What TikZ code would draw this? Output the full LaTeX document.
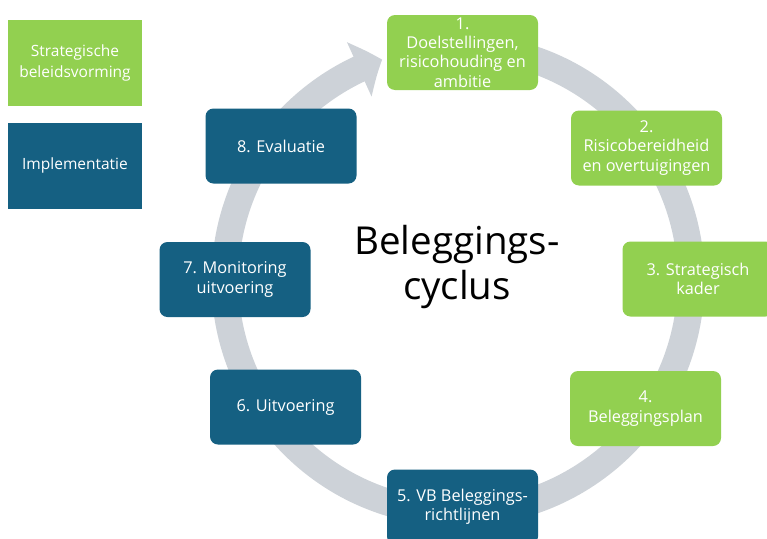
\documentclass[tikz,border=0pt]{standalone}
\usepackage{fontspec}
\setmainfont{Open Sans}
\usetikzlibrary{arrows.meta,bending}
\definecolor{stratgreen}{HTML}{92D050}
\definecolor{implblue}{HTML}{156082}
\definecolor{ringgray}{HTML}{CDD2D8}
\begin{document}
\begin{tikzpicture}[x=1pt,y=1pt]
\tikzstyle{every node}+=[inner sep=0pt]
\tikzstyle{stepnode}=[rounded corners=8pt, minimum width=151pt, minimum height=75pt, align=center, text=white, font=\fontsize{16.3}{19.3}\selectfont]
\tikzstyle{strat}=[stepnode, fill=stratgreen]
\tikzstyle{impl}=[stepnode, fill=implblue]
\tikzstyle{legend}=[minimum width=134pt, minimum height=86pt, align=center, text=white, font=\fontsize{15.5}{21}\selectfont]
\useasboundingbox (0,0) rectangle (767,-538);
\fill [white] (0,0) rectangle (767,-538);
% ring with arrow
\coordinate (c) at (458,-280);
\draw [ringgray, line width=27pt, -{Triangle[length=25pt,width=58pt,bend]}] ([shift={(80:233)}]c) arc [start angle=80, end angle=-251, radius=233];
% legend
\node [legend, fill=stratgreen] (lstrat) at (75,-63) {Strategische\\beleidsvorming};
\node [legend, fill=implblue] (limpl) at (75,-165.5) {Implementatie};
% title
\node [font=\fontsize{38.5}{45}\selectfont, align=center] (title) at (457,-267) {Beleggings-\\cyclus};
% steps
\node [strat] (q1) at (462.5,-52.5) {1.\\Doelstellingen,\\risicohouding en\\ambitie};
\node [strat] (q2) at (646.5,-148) {2.\\Risicobereidheid\\en overtuigingen};
\node [strat] (q3) at (698,-279) {3. Strategisch\\kader};
\node [strat] (q4) at (645.5,-408.5) {4.\\Beleggingsplan};
\node [impl] (q5) at (462.5,-507) {5. VB Beleggings-\\richtlijnen};
\node [impl] (q6) at (285.5,-407) {6. Uitvoering};
\node [impl] (q7) at (235,-279.5) {7. Monitoring\\uitvoering};
\node [impl] (q8) at (281,-146) {8. Evaluatie};
\end{tikzpicture}
\end{document}
